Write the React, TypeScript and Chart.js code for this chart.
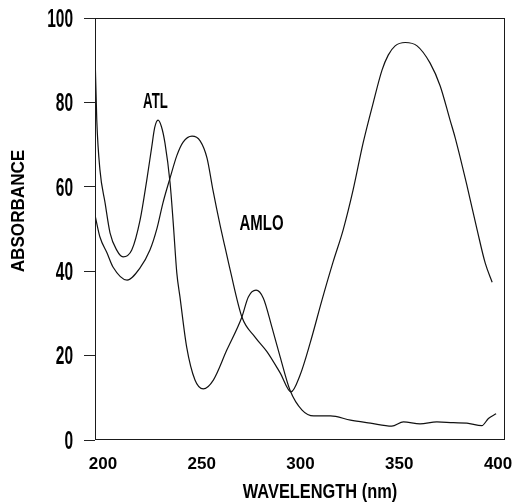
import React, { useEffect, useRef } from "react";
import { Chart, registerables } from "chart.js";

Chart.register(...registerables);

// ATL spectrum (wavelength nm, absorbance)
const atlWavelength = [196, 196.9, 198.5, 201.1, 203.6, 207.0, 210.2, 214.6, 218.8, 222.2, 224.7, 226.2, 227.9, 229.6, 231.4, 234.0, 235.6, 237.4, 239.0, 242.4, 246.6, 250.8, 255.9, 262.7, 270.3, 273.6, 277.5, 281.2, 285.5, 289.7, 294.7, 300.8, 306.7, 315.2, 325.3, 335.4, 346.2, 352.1, 360.5, 369.0, 377.4, 384.2, 391.8, 395.1, 399.0];
const atlAbsorbance = [91.7, 75.8, 64.0, 56.2, 49.1, 45.0, 43.4, 45.0, 52.1, 61.6, 69.4, 74.0, 75.8, 74.3, 70.4, 60.9, 51.4, 39.6, 33.9, 22.0, 14.2, 12.1, 14.2, 21.3, 29.1, 33.9, 35.5, 33.6, 26.8, 19.7, 11.8, 7.1, 5.7, 5.7, 4.7, 4.0, 3.3, 4.3, 3.8, 4.3, 4.1, 4.0, 3.4, 5.1, 6.2];

// AMLO spectrum
const amloWavelength = [196, 198.5, 202.1, 205.1, 212.2, 218.8, 223.8, 227.4, 230.4, 234.0, 237.5, 240.6, 245.1, 249.2, 252.7, 255.7, 259.3, 261.8, 264.4, 270.4, 277.0, 283.1, 289.7, 295.2, 299.8, 304.9, 310.9, 316.5, 321.6, 326.6, 331.7, 336.8, 341.3, 344.4, 347.9, 353.0, 359.0, 365.6, 370.7, 375.7, 378.3, 384.4, 389.4, 393.5, 397.0];
const amloAbsorbance = [53.3, 48.1, 44.3, 41.0, 37.9, 40.8, 45.0, 50.2, 56.2, 62.1, 67.5, 70.6, 72.0, 70.9, 66.8, 59.2, 50.9, 45.7, 40.3, 29.1, 24.4, 20.9, 15.9, 11.4, 15.4, 23.0, 33.2, 42.2, 49.8, 59.2, 70.4, 79.9, 87.7, 91.2, 93.4, 94.2, 93.4, 89.3, 83.9, 75.8, 71.6, 60.0, 49.8, 41.9, 37.4];

const xTicks = [200, 250, 300, 350, 400];
const yTicks = [0, 20, 40, 60, 80, 100];

const peakLabels = ["ATL", "AMLO"];
const peakLabelX = [226.6, 280.3];
const peakLabelY = [80.2, 51.2];

const xTitle = "WAVELENGTH (nm)";
const yTitle = "ABSORBANCE";

const SANS = "'Liberation Sans', Arial, sans-serif";

function squeezeText(ctx: CanvasRenderingContext2D, text: string, x: number, y: number, sx: number) {
  ctx.save();
  ctx.translate(x, y);
  ctx.scale(sx, 1);
  ctx.fillText(text, 0, 0);
  ctx.restore();
}

const decorPlugin = {
  id: "decor",
  afterDraw(chart: any) {
    const { ctx, chartArea: a, scales } = chart;
    ctx.save();
    ctx.strokeStyle = "#1a1a1a";
    ctx.lineWidth = 1;
    ctx.strokeRect(a.left + 0.5, a.top + 0.5, a.right - a.left - 1, a.bottom - a.top - 1);

    ctx.fillStyle = "#000";
    ctx.textAlign = "center";
    ctx.textBaseline = "middle";
    ctx.font = `bold 22px ${SANS}`;
    const labelSqueeze = [0.6, 0.68];
    peakLabels.forEach((t, i) => {
      squeezeText(ctx, t, scales.x.getPixelForValue(peakLabelX[i]), scales.y.getPixelForValue(peakLabelY[i]), labelSqueeze[i]);
    });

    // axis titles
    ctx.font = `bold 21px ${SANS}`;
    squeezeText(ctx, xTitle, (a.left + a.right) / 2 + 20, a.bottom + 52, 0.78);
    ctx.font = `bold 18px ${SANS}`;
    ctx.save();
    ctx.translate(a.left - 76, (a.top + a.bottom) / 2 - 18);
    ctx.rotate(-Math.PI / 2);
    squeezeText(ctx, yTitle, 0, 0, 0.95);
    ctx.restore();
    ctx.restore();
  },
};

export default function App() {
  const ref = useRef<HTMLCanvasElement | null>(null);

  useEffect(() => {
    if (!ref.current) return;
    const chart = new Chart(ref.current, {
      type: "line",
      data: {
        datasets: [
          {
            label: "ATL",
            data: atlWavelength.map((x, i) => ({ x, y: atlAbsorbance[i] })),
            borderColor: "#111",
            borderWidth: 1.2,
            pointRadius: 0,
            cubicInterpolationMode: "monotone",
            fill: false,
          },
          {
            label: "AMLO",
            data: amloWavelength.map((x, i) => ({ x, y: amloAbsorbance[i] })),
            borderColor: "#111",
            borderWidth: 1.2,
            pointRadius: 0,
            cubicInterpolationMode: "monotone",
            fill: false,
          },
        ],
      },
      options: {
        responsive: false,
        animation: false,
        layout: { padding: { left: 0, right: 9, top: 18, bottom: 0 } },
        plugins: { legend: { display: false }, tooltip: { enabled: false } },
        scales: {
          x: {
            type: "linear",
            min: 196,
            max: 403.5,
            afterBuildTicks: (s: any) => {
              s.ticks = xTicks.map((v) => ({ value: v }));
            },
            afterFit: (s: any) => {
              s.height = 63;
              s.paddingLeft = 0;
              s.paddingRight = 0;
            },
            border: { display: false },
            grid: { display: true, drawOnChartArea: false, drawTicks: false },
            ticks: {
              color: "#000",
              font: { family: SANS, size: 17, weight: "bold" },
              padding: 14,
              maxRotation: 0,
              autoSkip: false,
            },
          },
          y: {
            type: "linear",
            min: 0,
            max: 100,
            afterBuildTicks: (s: any) => {
              s.ticks = yTicks.map((v) => ({ value: v }));
            },
            afterFit: (s: any) => {
              s.width = 95;
              s.paddingTop = 0;
              s.paddingBottom = 0;
              if (!s._squeezed) {
                s._squeezed = true;
                const orig = s.drawLabels;
                s.drawLabels = function (area: any) {
                  const ctx = this.ctx;
                  const ax = this.right - 11 - 11;
                  ctx.save();
                  ctx.translate(ax, 2);
                  ctx.scale(0.62, 1);
                  ctx.translate(-ax, 0);
                  orig.call(this, area);
                  ctx.restore();
                };
              }
            },
            border: { display: false },
            grid: {
              display: true,
              drawOnChartArea: false,
              drawTicks: true,
              tickLength: 11,
              color: "#222",
              lineWidth: 1,
            },
            ticks: {
              color: "#000",
              font: { family: SANS, size: 25, weight: "bold" },
              padding: 11,
              autoSkip: false,
            },
          },
        },
      },
      plugins: [decorPlugin],
    });
    return () => chart.destroy();
  }, []);

  return (
    <div style={{ position: "fixed", left: 0, top: 0, width: 514, height: 503, background: "#fff" }}>
      <canvas ref={ref} width={514} height={503} />
    </div>
  );
}
